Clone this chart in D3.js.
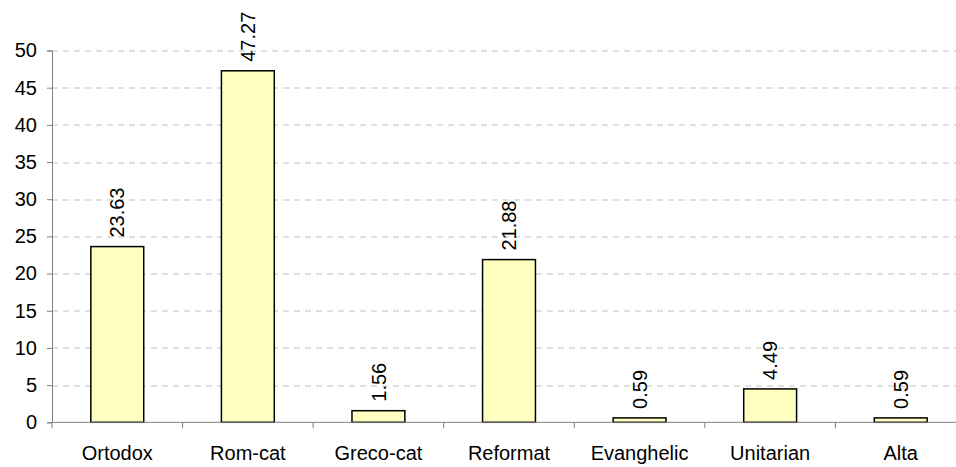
<!DOCTYPE html>
<html>
<head>
<meta charset="utf-8">
<script src="https://cdn.jsdelivr.net/npm/d3@7"></script>
<style>
    body { margin: 0; background: #fff; }
    svg { display: block; font-family: Arial, "Liberation Sans", sans-serif; }
</style>
</head>
<body>
<div id="chartDiv"></div>
<script>
(function () {

    // Data
    var categories = ["Ortodox", "Rom-cat", "Greco-cat", "Reformat", "Evanghelic", "Unitarian", "Alta"];
    var values = [23.63, 47.27, 1.56, 21.88, 0.59, 4.49, 0.59];
    var yTicks = [0, 5, 10, 15, 20, 25, 30, 35, 40, 45, 50];

    // Colors
    var barColor = "#ffffc0";
    var barStroke = "#000000";
    var gridColor = "#c0c0c0";
    var axisColor = "#808080";

    var totalWidth = 956, totalHeight = 467;
    var margin = {top: 50.5, right: -10, bottom: 44.7, left: 52},
        width = totalWidth - margin.left - margin.right,
        height = totalHeight - margin.top - margin.bottom;

    var svg = d3.select("#chartDiv")
        .append("svg")
        .attr("width", totalWidth)
        .attr("height", totalHeight)
        .append("g")
        .attr("transform", "translate(" + margin.left + "," + margin.top + ")");

    // Scales
    var x = d3.scaleBand()
        .domain(categories)
        .range([0, width])
        .paddingInner(0.595)
        .paddingOuter(0.2975);

    var xStep = d3.scaleBand()
        .domain(categories)
        .range([0, width]);

    var y = d3.scaleLinear()
        .domain([0, 50])
        .range([height, 0]);

    // Gridlines
    svg.selectAll(".grid")
        .data(yTicks.slice(1))
        .enter().append("line")
        .attr("class", "grid")
        .attr("x1", 0)
        .attr("x2", width)
        .attr("y1", function (d) { return Math.round(y(d)) + 0.5; })
        .attr("y2", function (d) { return Math.round(y(d)) + 0.5; })
        .attr("stroke", gridColor)
        .attr("stroke-width", 1)
        .attr("stroke-dasharray", "6,5");

    // Bars
    svg.selectAll(".bar")
        .data(values)
        .enter().append("rect")
        .attr("class", "bar")
        .attr("x", function (d, i) { return x(categories[i]); })
        .attr("y", function (d) { return y(d); })
        .attr("width", x.bandwidth())
        .attr("height", function (d) { return height - y(d); })
        .attr("fill", barColor)
        .attr("stroke", barStroke)
        .attr("stroke-width", 1.5);

    // Value labels
    svg.selectAll(".value")
        .data(values)
        .enter().append("text")
        .attr("class", "value")
        .attr("transform", function (d, i) {
            var cx = x(categories[i]) + x.bandwidth() / 2;
            return "translate(" + cx + "," + (y(d) - 9) + ") rotate(-90)";
        })
        .attr("dy", "0.36em")
        .attr("text-anchor", "start")
        .style("font-size", "20px")
        .style("fill", "#000")
        .text(function (d) { return d.toFixed(2); });

    // Y axis
    var yAxis = svg.append("g")
        .call(d3.axisLeft(y).tickValues(yTicks).tickSize(5).tickPadding(10));
    yAxis.selectAll("path, line").attr("stroke", axisColor);
    yAxis.selectAll("text").style("font-size", "20px").style("fill", "#000");

    // X axis: ticks at category boundaries
    var xAxisG = svg.append("g")
        .attr("transform", "translate(0," + height + ")");
    xAxisG.append("line")
        .attr("x1", 0)
        .attr("x2", width)
        .attr("y1", 0)
        .attr("y2", 0)
        .attr("stroke", axisColor);
    xAxisG.selectAll(".xtick")
        .data(categories)
        .enter().append("line")
        .attr("class", "xtick")
        .attr("x1", function (d) { return xStep(d); })
        .attr("x2", function (d) { return xStep(d); })
        .attr("y1", 0)
        .attr("y2", 6)
        .attr("stroke", axisColor);
    xAxisG.selectAll(".xlabel")
        .data(categories)
        .enter().append("text")
        .attr("class", "xlabel")
        .attr("x", function (d) { return xStep(d) + xStep.bandwidth() / 2; })
        .attr("y", 38)
        .attr("text-anchor", "middle")
        .style("font-size", "20px")
        .style("fill", "#000")
        .text(function (d) { return d; });

})();
</script>
</body>
</html>
